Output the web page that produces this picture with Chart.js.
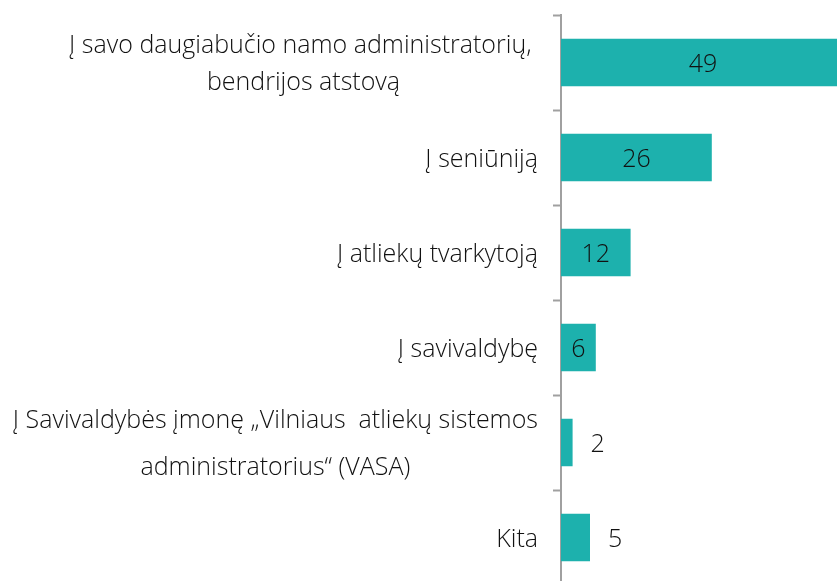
<!DOCTYPE html>
<html><head><meta charset="utf-8">
<script src="https://cdn.jsdelivr.net/npm/chart.js@4"></script>
<style>
html,body{margin:0;padding:0;overflow:hidden;background:#fff;width:837px;height:581px}
#wrap{position:absolute;left:0;top:0;width:851px;height:586px}
</style></head>
<body><div id="wrap"><canvas id="c"></canvas></div>
<script>
const categories = [
  ["Į savo daugiabučio namo administratorių, ", "bendrijos atstovą"],
  ["Į seniūniją"],
  ["Į atliekų tvarkytoją"],
  ["Į savivaldybę"],
  ["Į Savivaldybės įmonę „Vilniaus  atliekų sistemos", "administratorius“ (VASA)"],
  ["Kita"]
];
const values = [49, 26, 12, 6, 2, 5];
const xMin = 0, xMax = 50;

const FONT_FAMILY = "'Open Sans', 'Segoe UI', sans-serif";
const FONT_WEIGHT = 300;
const FONT_SIZE = 25;
const TEXT_COLOR = '#111111';
const lineGaps = [37, 0, 0, 0, 47, 0];
const TEXT_DY = 2;

const labelPlugin = {
  id: 'labels',
  afterDatasetsDraw(chart) {
    const ctx = chart.ctx;
    const meta = chart.getDatasetMeta(0);
    const yScale = chart.scales.y;
    ctx.save();
    ctx.font = `${FONT_WEIGHT} ${FONT_SIZE}px ${FONT_FAMILY}`;
    ctx.fillStyle = TEXT_COLOR;
    ctx.textBaseline = 'middle';
    meta.data.forEach((bar, i) => {
      const v = values[i];
      const w = bar.x - bar.base;
      const tw = ctx.measureText(String(v)).width;
      if (w > 2.2 * tw) {
        ctx.textAlign = 'center';
        ctx.fillText(String(v), (bar.x + bar.base) / 2, bar.y + TEXT_DY);
      } else {
        ctx.textAlign = 'left';
        ctx.fillText(String(v), bar.x + 18, bar.y + TEXT_DY);
      }
    });
    const rightEdge = chart.chartArea.left - 23;
    categories.forEach((lines, i) => {
      const cy = yScale.getPixelForValue(i) + TEXT_DY;
      const blockW = Math.max(...lines.map(l => ctx.measureText(l).width));
      const cx = rightEdge - blockW / 2;
      ctx.textAlign = 'center';
      const n = lines.length;
      lines.forEach((l, j) => {
        ctx.fillText(l, cx, cy + (j - (n - 1) / 2) * lineGaps[i]);
      });
    });
    ctx.restore();
  }
};

new Chart(document.getElementById('c'), {
  type: 'bar',
  data: {
    labels: categories,
    datasets: [{
      data: values,
      backgroundColor: '#1DB1AD',
      borderWidth: 0,
      barPercentage: 0.5,
      categoryPercentage: 1.0
    }]
  },
  options: {
    indexAxis: 'y',
    responsive: true,
    maintainAspectRatio: false,
    animation: false,
    layout: { padding: { left: 553, top: 15, right: 0, bottom: 1 } },
    plugins: { legend: { display: false }, tooltip: { enabled: false } },
    scales: {
      x: { display: false, min: xMin, max: xMax },
      y: {
        ticks: { display: false },
        grid: { drawOnChartArea: false, drawTicks: true, tickLength: 8, tickWidth: 2, color: '#A0A0A0', offset: true },
        border: { display: true, color: '#A0A0A0', width: 2 }
      }
    }
  },
  plugins: [labelPlugin]
});
</script>
</body></html>
